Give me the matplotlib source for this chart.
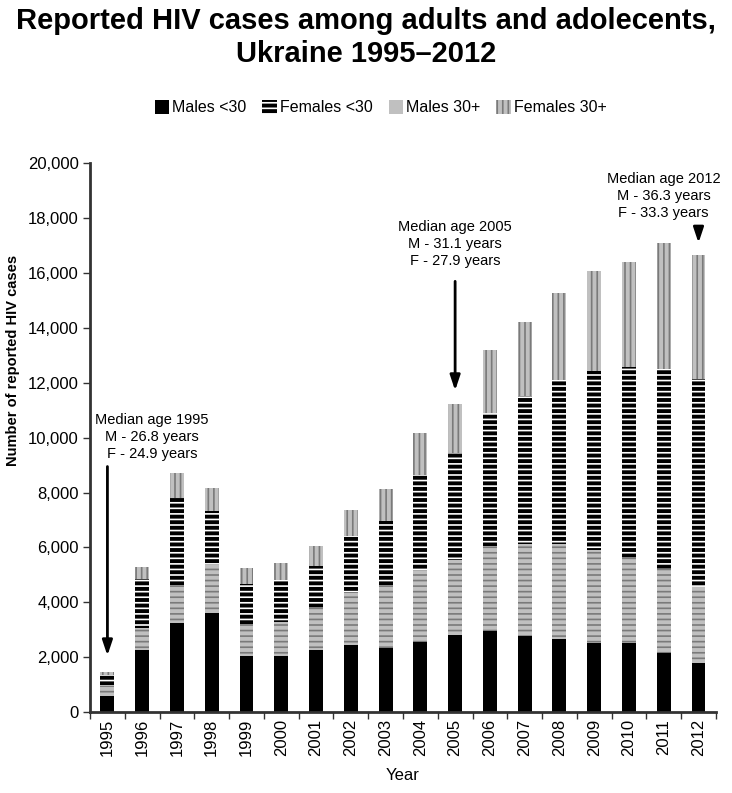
import matplotlib
matplotlib.use("Agg")
import numpy as np
import matplotlib.pyplot as plt
from matplotlib.patches import Patch
from matplotlib.ticker import FuncFormatter, MultipleLocator

plt.rcParams['font.family'] = ['Liberation Sans', 'DejaVu Sans']
plt.rcParams['hatch.linewidth'] = 1.2

years = [str(y) for y in range(1995, 2013)]
males_u30 = [600, 2260, 3260, 3600, 2040, 2040, 2280, 2460, 2350, 2570,
             2800, 2960, 2790, 2650, 2520, 2520, 2170, 1800]
males_30p = [350, 810, 1370, 1770, 1160, 1240, 1520, 1890, 2270, 2620,
             2760, 3060, 3350, 3460, 3380, 3080, 3060, 2770]
females_u30 = [400, 1780, 3190, 1960, 1460, 1530, 1530, 2070, 2340, 3470,
               3900, 4880, 5390, 5980, 6530, 6960, 7280, 7560]
females_30p = [110, 430, 880, 830, 600, 640, 730, 940, 1180, 1520,
               1760, 2310, 2670, 3200, 3640, 3850, 4600, 4520]

notes = {"1995": "Median age 1995\nM - 26.8 years\nF - 24.9 years",
         "2005": "Median age 2005\nM - 31.1 years\nF - 27.9 years",
         "2012": "Median age 2012\nM - 36.3 years\nF - 33.3 years"}

fig = plt.figure(figsize=(7.32, 7.93), dpi=100)
ax = fig.add_axes([0.123, 0.102, 0.855, 0.692])

x = np.arange(len(years))
w = 0.4
gray = '#c0c0c0'

b1 = np.array(males_u30)
b2 = b1 + np.array(males_30p)
b3 = b2 + np.array(females_u30)
total = b3 + np.array(females_30p)

ax.bar(x, males_u30, w, color='black', linewidth=0)
ax.bar(x, males_30p, w, bottom=b1, facecolor=gray, edgecolor='#7a7a7a',
       hatch='---', linewidth=0)
ax.bar(x, females_u30, w, bottom=b2, facecolor='black', edgecolor='white',
       hatch='---', linewidth=0)
ax.bar(x, females_30p, w, bottom=b3, facecolor=gray, edgecolor='#7a7a7a',
       hatch='|||', linewidth=0)

ax.set_xlim(-0.5, len(years) - 0.5)
ax.set_ylim(0, 20000)
ax.yaxis.set_major_locator(MultipleLocator(2000))
ax.yaxis.set_major_formatter(FuncFormatter(lambda v, p: f"{int(v):,}"))
ax.set_xticks(x)
ax.set_xticklabels(years, rotation=90, fontsize=12)
ax.set_xticks(np.arange(-0.5, len(years)), minor=True)
ax.tick_params(axis='x', which='major', length=0, pad=5)
ax.tick_params(axis='x', which='minor', length=5, width=1, color='#333333')
ax.tick_params(axis='y', labelsize=12, length=5, width=1, color='#333333', pad=3)

for s in ['top', 'right']:
    ax.spines[s].set_visible(False)
for s in ['left', 'bottom']:
    ax.spines[s].set_linewidth(2)
    ax.spines[s].set_color('#333333')

ax.set_ylabel("Number of reported HIV cases", fontsize=10.5, fontweight='bold')
ax.yaxis.set_label_coords(-0.112, 0.64)
ax.set_xlabel("Year", fontsize=12, labelpad=8)

# annotations
arrow = dict(arrowstyle='-|>,head_width=0.3,head_length=0.9',
             lw=2, color='black', shrinkA=0, shrinkB=0)
txt = dict(ha='center', va='top', fontsize=10.5, linespacing=1.25)

i = years.index("1995")
ax.annotate("", xy=(i, total[i] + 600), xytext=(i, 8950), arrowprops=arrow)
ax.text(i + 1.28, 10900, notes["1995"], **txt)

i = years.index("2005")
ax.annotate("", xy=(i, total[i] + 500), xytext=(i, 15700), arrowprops=arrow)
ax.text(i, 17920, notes["2005"], **txt)

i = years.index("2012")
ax.annotate("", xy=(i, total[i] + 450), xytext=(i, 17600), arrowprops=arrow)
ax.text(i - 1.0, 19670, notes["2012"], **txt)

handles = [Patch(facecolor='black', linewidth=0),
           Patch(facecolor='black', edgecolor='white', hatch='---', linewidth=0),
           Patch(facecolor=gray, linewidth=0),
           Patch(facecolor=gray, edgecolor='#7a7a7a', hatch='|||', linewidth=0)]
fig.legend(handles, ["Males <30", "Females <30", "Males 30+", "Females 30+"],
           loc='center', bbox_to_anchor=(0.52, 0.864), ncol=4, frameon=False,
           fontsize=11.5, handlelength=0.9, handleheight=0.9, handletextpad=0.2,
           columnspacing=1.0)

fig.suptitle("Reported HIV cases among adults and adolecents,\nUkraine 1995\u20132012",
             fontsize=21, fontweight='bold', y=0.991, va='top', linespacing=1.2)

fig.savefig("out.png", dpi=100)
